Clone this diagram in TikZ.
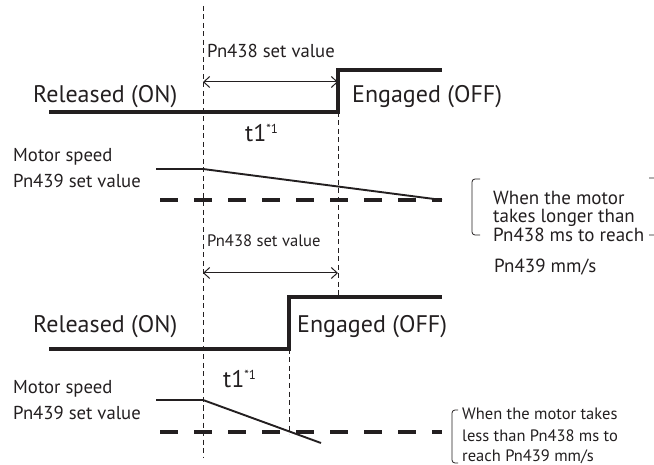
\documentclass[tikz,border=0pt]{standalone}
\usepackage{fontspec}
\setmainfont{PT Sans}
\usepackage{xcolor}
\usetikzlibrary{arrows.meta}
\definecolor{ink}{HTML}{231F20}

\begin{document}
\begin{tikzpicture}[x=1pt, y=-1pt,
  signal/.style={line width=3.4pt, ink},
  speed/.style={line width=1.9pt, ink},
  level/.style={line width=3.2pt, ink, dash pattern=on 18pt off 16pt},
  guide/.style={line width=0.7pt, ink, dash pattern=on 5pt off 3.5pt},
  span/.style={line width=1pt, ink,
               {Straight Barb[length=6pt,width=11pt]}-{Straight Barb[length=6pt,width=11pt]}},
  big/.style={font=\fontsize{24}{28}\selectfont, text=ink, inner sep=0pt, anchor=base west},
  small/.style={font=\fontsize{18.7}{22}\selectfont, text=ink, inner sep=0pt, anchor=base west},
  note/.style={font=\fontsize{19}{22}\selectfont, text=ink, inner sep=0pt, anchor=base west},
  bracket/.style={line width=0.8pt, ink, rounded corners=3pt},
]
\useasboundingbox (0,0) rectangle (654,465);

% Time marks
\coordinate (t0top) at (203,6);
\coordinate (t0bot) at (203,458);
\coordinate (t1top) at (338,112);
\coordinate (t1bot) at (338,295);
\coordinate (t2top) at (289,349);
\coordinate (t2bot) at (289,434);
\draw[guide] (t0top) -- (t0bot);
\draw[guide] (t1top) -- (t1bot);
\draw[guide] (t2top) -- (t2bot);

% Case 1: brake output
\node[small] (set1) at (207,58) {Pn438 set value};
\draw[span] (203,82) -- (338,82);
\draw[signal] (49,112) -- (t1top) -- (338,70) -- (442,70);
\node[big] (rel1) at (33,103) {Released (ON)};
\node[big] (eng1) at (352,103) {Engaged (OFF)};
\node[big] (dt1) at (245,142) {t1\raisebox{8pt}{\fontsize{13}{14}\selectfont *1}};

% Case 1: motor speed
\node[small] (mot1) at (13,162) {Motor speed};
\node[small] (lev1) at (13,188) {Pn439 set value};
\draw[speed] (156,169) -- (203,169) -- (442,200);
\draw[level] (160,200) -- (442,200);

\draw[bracket] (480,179) -- (472,179) -- (472,235) -- (480,235);
\draw[bracket] (649,178) -- (657,178) -- (657,235) -- (649,235);
\node[note] (a1) at (493,205) {When the motor};
\node[note] (a2) at (493,223) {takes longer than};
\node[note] (a3) at (493,242) {Pn438 ms to reach};
\node[note] (a4) at (494,273) {Pn439 mm/s};

% Case 2: brake output
\node[small, font=\fontsize{16.6}{20}\selectfont] (set2) at (207,247) {Pn438 set value};
\draw[span] (203,273) -- (338,273);
\draw[signal] (49,349) -- (t2top) -- (289,297) -- (442,297);
\node[big] (rel2) at (33,333) {Released (ON)};
\node[big] (eng2) at (297,333) {Engaged (OFF)};
\node[big] (dt2) at (223,388) {t1\raisebox{8pt}{\fontsize{13}{14}\selectfont *1}};

% Case 2: motor speed
\node[small] (mot2) at (13,393) {Motor speed};
\node[small] (lev2) at (13,419) {Pn439 set value};
\draw[speed] (156,400) -- (203,400) -- (321,443);
\draw[level] (160,432) -- (442,432);

\draw[bracket] (458,410) -- (452,410) -- (452,463) -- (458,463);
\node[note, font=\fontsize{16.5}{20}\selectfont] (b1) at (462,420) {When the motor takes};
\node[note, font=\fontsize{16.5}{20}\selectfont] (b2) at (462,441) {less than Pn438 ms to};
\node[note, font=\fontsize{16.5}{20}\selectfont] (b3) at (462,461) {reach Pn439 mm/s};
\end{tikzpicture}
\end{document}
